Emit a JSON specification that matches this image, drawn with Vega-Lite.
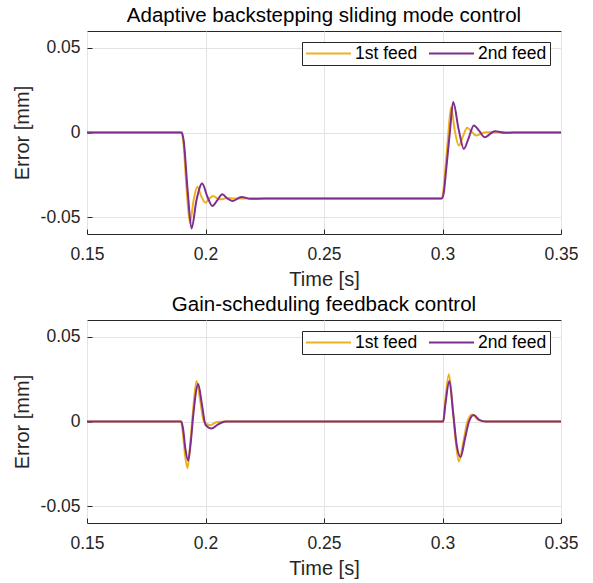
{
  "$schema": "https://vega.github.io/schema/vega-lite/v6.json",
  "padding": {"left": 11, "top": 5, "right": 5, "bottom": 5},
  "datasets": {
    "curves": [
      {"panel": "top", "feed": "1st feed", "t": 0.15, "v": 0},
      {"panel": "top", "feed": "1st feed", "t": 0.1898, "v": 0},
      {"panel": "top", "feed": "1st feed", "t": 0.1906, "v": -0.005},
      {"panel": "top", "feed": "1st feed", "t": 0.192, "v": -0.033},
      {"panel": "top", "feed": "1st feed", "t": 0.1934, "v": -0.0534},
      {"panel": "top", "feed": "1st feed", "t": 0.195, "v": -0.04},
      {"panel": "top", "feed": "1st feed", "t": 0.1965, "v": -0.0321},
      {"panel": "top", "feed": "1st feed", "t": 0.1983, "v": -0.038},
      {"panel": "top", "feed": "1st feed", "t": 0.2, "v": -0.0415},
      {"panel": "top", "feed": "1st feed", "t": 0.2017, "v": -0.039},
      {"panel": "top", "feed": "1st feed", "t": 0.2033, "v": -0.0375},
      {"panel": "top", "feed": "1st feed", "t": 0.205, "v": -0.039},
      {"panel": "top", "feed": "1st feed", "t": 0.2068, "v": -0.0395},
      {"panel": "top", "feed": "1st feed", "t": 0.209, "v": -0.0386},
      {"panel": "top", "feed": "1st feed", "t": 0.212, "v": -0.039},
      {"panel": "top", "feed": "1st feed", "t": 0.2995, "v": -0.039},
      {"panel": "top", "feed": "1st feed", "t": 0.3003, "v": -0.035},
      {"panel": "top", "feed": "1st feed", "t": 0.3013, "v": -0.02},
      {"panel": "top", "feed": "1st feed", "t": 0.3025, "v": 0},
      {"panel": "top", "feed": "1st feed", "t": 0.3036, "v": 0.015},
      {"panel": "top", "feed": "1st feed", "t": 0.3052, "v": 0.001},
      {"panel": "top", "feed": "1st feed", "t": 0.3069, "v": -0.0077},
      {"panel": "top", "feed": "1st feed", "t": 0.3087, "v": -0.002},
      {"panel": "top", "feed": "1st feed", "t": 0.3104, "v": 0.0028},
      {"panel": "top", "feed": "1st feed", "t": 0.3123, "v": 0.0005},
      {"panel": "top", "feed": "1st feed", "t": 0.3142, "v": -0.0018},
      {"panel": "top", "feed": "1st feed", "t": 0.3181, "v": 0.0002},
      {"panel": "top", "feed": "1st feed", "t": 0.322, "v": 0},
      {"panel": "top", "feed": "1st feed", "t": 0.35, "v": 0},
      {"panel": "top", "feed": "2nd feed", "t": 0.15, "v": 0},
      {"panel": "top", "feed": "2nd feed", "t": 0.19, "v": 0},
      {"panel": "top", "feed": "2nd feed", "t": 0.1908, "v": -0.005},
      {"panel": "top", "feed": "2nd feed", "t": 0.1925, "v": -0.035},
      {"panel": "top", "feed": "2nd feed", "t": 0.1941, "v": -0.0567},
      {"panel": "top", "feed": "2nd feed", "t": 0.1962, "v": -0.04},
      {"panel": "top", "feed": "2nd feed", "t": 0.1986, "v": -0.0302},
      {"panel": "top", "feed": "2nd feed", "t": 0.2008, "v": -0.038},
      {"panel": "top", "feed": "2nd feed", "t": 0.2029, "v": -0.0435},
      {"panel": "top", "feed": "2nd feed", "t": 0.205, "v": -0.04},
      {"panel": "top", "feed": "2nd feed", "t": 0.2071, "v": -0.0365},
      {"panel": "top", "feed": "2nd feed", "t": 0.2092, "v": -0.039},
      {"panel": "top", "feed": "2nd feed", "t": 0.2113, "v": -0.0405},
      {"panel": "top", "feed": "2nd feed", "t": 0.2152, "v": -0.0381},
      {"panel": "top", "feed": "2nd feed", "t": 0.219, "v": -0.0392},
      {"panel": "top", "feed": "2nd feed", "t": 0.225, "v": -0.039},
      {"panel": "top", "feed": "2nd feed", "t": 0.2997, "v": -0.039},
      {"panel": "top", "feed": "2nd feed", "t": 0.3005, "v": -0.036},
      {"panel": "top", "feed": "2nd feed", "t": 0.3015, "v": -0.0226},
      {"panel": "top", "feed": "2nd feed", "t": 0.3031, "v": 0},
      {"panel": "top", "feed": "2nd feed", "t": 0.3045, "v": 0.018},
      {"panel": "top", "feed": "2nd feed", "t": 0.3068, "v": 0.002},
      {"panel": "top", "feed": "2nd feed", "t": 0.309, "v": -0.0097},
      {"panel": "top", "feed": "2nd feed", "t": 0.3111, "v": -0.003},
      {"panel": "top", "feed": "2nd feed", "t": 0.3132, "v": 0.0042},
      {"panel": "top", "feed": "2nd feed", "t": 0.3155, "v": 0.001},
      {"panel": "top", "feed": "2nd feed", "t": 0.3177, "v": -0.0028},
      {"panel": "top", "feed": "2nd feed", "t": 0.3221, "v": 0.0008},
      {"panel": "top", "feed": "2nd feed", "t": 0.3265, "v": -0.0002},
      {"panel": "top", "feed": "2nd feed", "t": 0.33, "v": 0},
      {"panel": "top", "feed": "2nd feed", "t": 0.35, "v": 0},
      {"panel": "bottom", "feed": "1st feed", "t": 0.15, "v": 0},
      {"panel": "bottom", "feed": "1st feed", "t": 0.1896, "v": 0},
      {"panel": "bottom", "feed": "1st feed", "t": 0.1903, "v": -0.005},
      {"panel": "bottom", "feed": "1st feed", "t": 0.1913, "v": -0.019},
      {"panel": "bottom", "feed": "1st feed", "t": 0.1924, "v": -0.0276},
      {"panel": "bottom", "feed": "1st feed", "t": 0.1935, "v": -0.014},
      {"panel": "bottom", "feed": "1st feed", "t": 0.1946, "v": 0.004},
      {"panel": "bottom", "feed": "1st feed", "t": 0.1962, "v": 0.024},
      {"panel": "bottom", "feed": "1st feed", "t": 0.1978, "v": 0.012},
      {"panel": "bottom", "feed": "1st feed", "t": 0.1993, "v": 0},
      {"panel": "bottom", "feed": "1st feed", "t": 0.2019, "v": -0.0022},
      {"panel": "bottom", "feed": "1st feed", "t": 0.2045, "v": -0.0005},
      {"panel": "bottom", "feed": "1st feed", "t": 0.208, "v": 0},
      {"panel": "bottom", "feed": "1st feed", "t": 0.3003, "v": 0},
      {"panel": "bottom", "feed": "1st feed", "t": 0.301, "v": 0.01},
      {"panel": "bottom", "feed": "1st feed", "t": 0.3027, "v": 0.028},
      {"panel": "bottom", "feed": "1st feed", "t": 0.3043, "v": 0.008},
      {"panel": "bottom", "feed": "1st feed", "t": 0.3056, "v": -0.012},
      {"panel": "bottom", "feed": "1st feed", "t": 0.3069, "v": -0.0236},
      {"panel": "bottom", "feed": "1st feed", "t": 0.3088, "v": -0.012},
      {"panel": "bottom", "feed": "1st feed", "t": 0.3105, "v": 0},
      {"panel": "bottom", "feed": "1st feed", "t": 0.3125, "v": 0.0042},
      {"panel": "bottom", "feed": "1st feed", "t": 0.315, "v": 0.001},
      {"panel": "bottom", "feed": "1st feed", "t": 0.318, "v": 0},
      {"panel": "bottom", "feed": "1st feed", "t": 0.35, "v": 0},
      {"panel": "bottom", "feed": "2nd feed", "t": 0.15, "v": 0},
      {"panel": "bottom", "feed": "2nd feed", "t": 0.1898, "v": 0},
      {"panel": "bottom", "feed": "2nd feed", "t": 0.1905, "v": -0.004},
      {"panel": "bottom", "feed": "2nd feed", "t": 0.1915, "v": -0.016},
      {"panel": "bottom", "feed": "2nd feed", "t": 0.1927, "v": -0.023},
      {"panel": "bottom", "feed": "2nd feed", "t": 0.1938, "v": -0.012},
      {"panel": "bottom", "feed": "2nd feed", "t": 0.195, "v": 0.006},
      {"panel": "bottom", "feed": "2nd feed", "t": 0.1969, "v": 0.0222},
      {"panel": "bottom", "feed": "2nd feed", "t": 0.1985, "v": 0.01},
      {"panel": "bottom", "feed": "2nd feed", "t": 0.2, "v": -0.002},
      {"panel": "bottom", "feed": "2nd feed", "t": 0.2026, "v": -0.0042},
      {"panel": "bottom", "feed": "2nd feed", "t": 0.205, "v": -0.002},
      {"panel": "bottom", "feed": "2nd feed", "t": 0.2085, "v": 0},
      {"panel": "bottom", "feed": "2nd feed", "t": 0.3003, "v": 0},
      {"panel": "bottom", "feed": "2nd feed", "t": 0.3012, "v": 0.01},
      {"panel": "bottom", "feed": "2nd feed", "t": 0.3029, "v": 0.024},
      {"panel": "bottom", "feed": "2nd feed", "t": 0.3045, "v": 0.005},
      {"panel": "bottom", "feed": "2nd feed", "t": 0.306, "v": -0.014},
      {"panel": "bottom", "feed": "2nd feed", "t": 0.3076, "v": -0.021},
      {"panel": "bottom", "feed": "2nd feed", "t": 0.3095, "v": -0.01},
      {"panel": "bottom", "feed": "2nd feed", "t": 0.3112, "v": 0},
      {"panel": "bottom", "feed": "2nd feed", "t": 0.3132, "v": 0.0038},
      {"panel": "bottom", "feed": "2nd feed", "t": 0.3155, "v": 0.001},
      {"panel": "bottom", "feed": "2nd feed", "t": 0.3182, "v": 0},
      {"panel": "bottom", "feed": "2nd feed", "t": 0.35, "v": 0}
    ]
  },
  "data": {"name": "curves"},
  "spacing": 4,
  "resolve": {"legend": {"color": "independent"}},
  "vconcat": [
    {
      "title": "Adaptive backstepping sliding mode control",
      "width": 474,
      "height": 203,
      "transform": [{"filter": "datum.panel == 'top'"}],
      "mark": {"type": "line", "strokeWidth": 2, "interpolate": "monotone"},
      "encoding": {
        "x": {"field": "t", "type": "quantitative", "title": "Time [s]",
              "scale": {"domain": [0.15, 0.35], "nice": false},
              "axis": {"values": [0.15, 0.2, 0.25, 0.3, 0.35], "labelExpr": "replace(format(datum.value, '~g'), '\u2212', '-')"}},
        "y": {"field": "v", "type": "quantitative", "title": "Error [mm]",
              "scale": {"domain": [-0.06, 0.06], "nice": false},
              "axis": {"values": [-0.05, 0, 0.05], "labelExpr": "replace(format(datum.value, '~g'), '\u2212', '-')"}},
        "color": {"field": "feed", "type": "nominal",
                  "scale": {"domain": ["1st feed", "2nd feed"], "range": ["#EDB120", "#7E2F8E"]},
                  "legend": {"title": null}}
      }
    },
    {
      "title": "Gain-scheduling feedback control",
      "width": 474,
      "height": 203,
      "transform": [{"filter": "datum.panel == 'bottom'"}],
      "mark": {"type": "line", "strokeWidth": 2, "interpolate": "monotone"},
      "encoding": {
        "x": {"field": "t", "type": "quantitative", "title": "Time [s]",
              "scale": {"domain": [0.15, 0.35], "nice": false},
              "axis": {"values": [0.15, 0.2, 0.25, 0.3, 0.35], "labelExpr": "replace(format(datum.value, '~g'), '\u2212', '-')"}},
        "y": {"field": "v", "type": "quantitative", "title": "Error [mm]",
              "scale": {"domain": [-0.06, 0.06], "nice": false},
              "axis": {"values": [-0.05, 0, 0.05], "labelExpr": "replace(format(datum.value, '~g'), '\u2212', '-')"}},
        "color": {"field": "feed", "type": "nominal",
                  "scale": {"domain": ["1st feed", "2nd feed"], "range": ["#EDB120", "#7E2F8E"]},
                  "legend": {"title": null}}
      }
    }
  ],
  "config": {
    "font": "Liberation Sans",
    "background": "white",
    "view": {"stroke": "#262626", "strokeWidth": 1},
    "axis": {
      "grid": true, "gridColor": "#e3e3e3", "gridWidth": 1,
      "domain": false, "labelFlush": false,
      "tickColor": "#262626", "tickSize": -5, "tickWidth": 1,
      "labelFontSize": 17.5, "labelColor": "#262626",
      "titleFontSize": 20, "titleColor": "#262626", "titleFontWeight": "normal"
    },
    "axisX": {"labelPadding": 16, "titlePadding": 7},
    "axisY": {"labelPadding": 12, "titlePadding": 8},
    "title": {"fontSize": 20.5, "fontWeight": "normal", "color": "#000000", "anchor": "middle", "offset": 5},
    "legend": {
      "orient": "top-right", "direction": "horizontal", "offset": 11,
      "strokeColor": "#262626", "fillColor": "white", "padding": 3,
      "symbolType": "stroke", "symbolSize": 2025, "symbolStrokeWidth": 2,
      "clipHeight": 17,
      "labelFontSize": 17.5, "labelColor": "#000000", "columnPadding": 10, "labelOffset": 3
    }
  }
}
